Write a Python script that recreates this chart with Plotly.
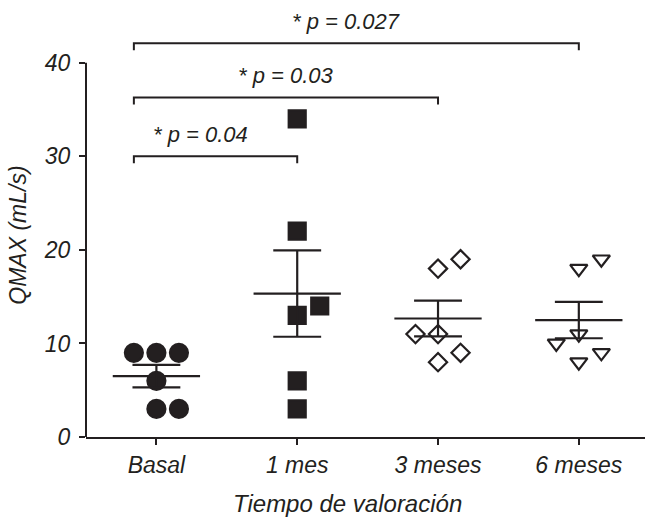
import numpy as np
import plotly.graph_objects as go

categories = ["Basal", "1 mes", "3 meses", "6 meses"]
basal = [9, 9, 9, 6, 3, 3]
mes1 = [34, 22, 14, 13, 6, 3]
mes3 = [18, 19, 11, 11, 8, 9]
mes6 = [18, 19, 10, 11, 8, 9]
groups = [basal, mes1, mes3, mes6]

# horizontal scatter slots (in units of jitter step) for each point
slots = [[-1, 0, 1, 0, 0, 1],
         [0, 0, 1, 0, 0, 0],
         [0, 1, -1, 0, 0, 1],
         [0, 1, -1, 0, 0, 1]]

p_labels = ["* p = 0.04", "* p = 0.03", "* p = 0.027"]
bracket_to = [1, 2, 3]
bracket_y = [30.0, 36.3, 42.1]

INK = "#231f20"
FONT = "Liberation Sans, Arial, sans-serif"
JIT = 0.16

symbols = ["circle", "square", "diamond-open", "triangle-down-open"]
sizes = [18, 17, 14, 15]

fig = go.Figure()

for i, (vals, sl) in enumerate(zip(groups, slots)):
    xs = [i + s * JIT for s in sl]
    fig.add_trace(go.Scatter(
        x=xs, y=vals, mode="markers", cliponaxis=False,
        marker=dict(symbol=symbols[i], size=sizes[i], color=INK,
                    line=dict(color=INK, width=2.2)),
        showlegend=False, hoverinfo="y"))

# mean +/- SEM
lx, ly = [], []
for i, vals in enumerate(groups):
    v = np.array(vals, dtype=float)
    m = v.mean()
    se = v.std(ddof=1) / np.sqrt(len(v))
    lx += [i - 0.31, i + 0.31, None, i, i, None,
           i - 0.17, i + 0.17, None, i - 0.17, i + 0.17, None]
    ly += [m, m, None, m - se, m + se, None,
           m + se, m + se, None, m - se, m - se, None]
fig.add_trace(go.Scatter(x=lx, y=ly, mode="lines",
                         line=dict(color=INK, width=2.2),
                         showlegend=False, hoverinfo="skip"))

# significance brackets
bx, by = [], []
for to, yb in zip(bracket_to, bracket_y):
    x0 = -JIT
    bx += [x0, x0, to, to, None]
    by += [yb - 0.75, yb, yb, yb - 0.75, None]
fig.add_trace(go.Scatter(x=bx, y=by, mode="lines",
                         line=dict(color=INK, width=2),
                         showlegend=False, hoverinfo="skip"))

xshifts = [-15, 0, -10]
for lab, to, yb, xs in zip(p_labels, bracket_to, bracket_y, xshifts):
    fig.add_annotation(x=(-JIT + to) / 2, y=yb + 2.3, text=lab,
                       showarrow=False, xshift=xs,
                       font=dict(family=FONT, size=22, color=INK, style="italic"))

# axis titles
fig.add_annotation(xref="paper", yref="paper", x=0.467, y=-0.157,
                   text="Tiempo de valoración", showarrow=False,
                   xanchor="center", yanchor="middle",
                   font=dict(family=FONT, size=24, color=INK, style="italic"))
fig.add_annotation(xref="paper", yref="paper", x=-0.122, y=0.48,
                   text="QMAX (mL/s)", showarrow=False, textangle=-90,
                   xanchor="center", yanchor="middle",
                   font=dict(family=FONT, size=23, color=INK, style="italic"))

# y axis line only from 0 to 40
fig.add_shape(type="line", xref="paper", x0=0, x1=0, yref="y", y0=0, y1=40,
              line=dict(color=INK, width=2))

fig.update_layout(
    width=645, height=517,
    margin=dict(l=86, r=0, t=16, b=80),
    paper_bgcolor="white", plot_bgcolor="white",
    font=dict(family=FONT, size=23, color=INK, style="italic"),
    xaxis=dict(range=[-0.5, 3.47], tickmode="array", tickvals=[0, 1, 2, 3],
               ticktext=categories, showline=True, linecolor=INK, linewidth=2,
               ticks="outside", ticklen=6, tickwidth=2, tickcolor=INK,
               showgrid=False, zeroline=False, automargin=False,
               tickfont=dict(size=23, style="italic")),
    yaxis=dict(range=[0, 45], tickmode="array", tickvals=[0, 10, 20, 30, 40],
               showline=False, ticks="outside", ticklen=6, tickwidth=2,
               tickcolor=INK, showgrid=False, zeroline=False, automargin=False,
               ticklabelstandoff=4, tickfont=dict(size=23, style="italic")),
)

fig.write_html("out.html",
               config={"displayModeBar": False},
               post_script="document.body.style.margin='0';"
                           "document.body.style.overflow='hidden';")
